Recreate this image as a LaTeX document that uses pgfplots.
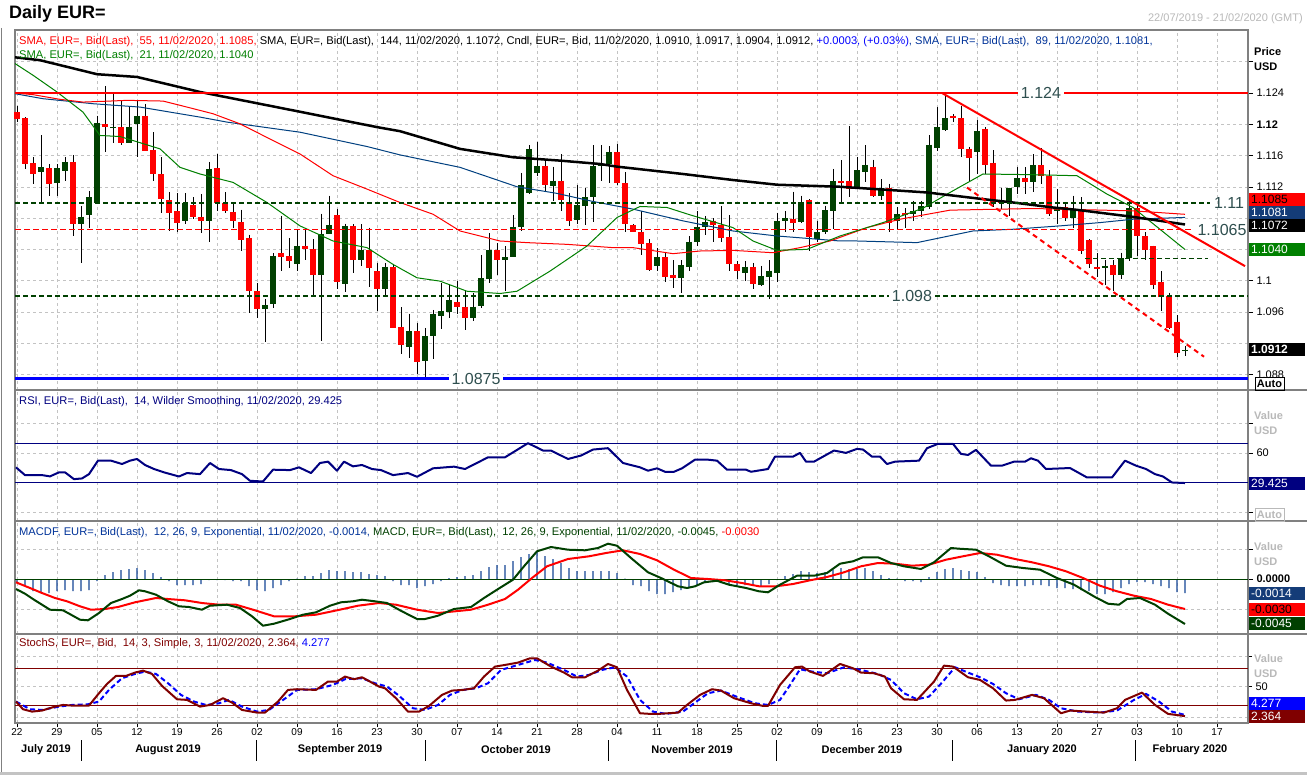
\documentclass[border=0pt]{standalone}
\usepackage{pgfplots}
\pgfplotsset{compat=1.18}
\usepackage{pgfplotstable}
\usepackage{fontspec}
\setmainfont{Liberation Sans}
\newcommand\sz[1]{\fontsize{#1}{#1}\selectfont}

\definecolor{cgreen}{RGB}{0,64,0}
\definecolor{smagreen}{RGB}{0,128,0}
\definecolor{smablue}{RGB}{0,64,128}
\definecolor{lvl}{RGB}{47,79,79}
\definecolor{navy}{RGB}{0,0,128}
\definecolor{maroon}{RGB}{128,0,0}
\definecolor{histblue}{RGB}{20,70,150}
\definecolor{gridgray}{RGB}{195,195,195}
\definecolor{framegray}{RGB}{128,128,128}
\definecolor{labgray}{RGB}{185,185,185}
\definecolor{boxblue}{RGB}{20,60,120}
\definecolor{txtblue}{RGB}{0,51,153}

% daily candles, i = trading day from 22/07/2019
\pgfplotstableread{
i O H L C
0 1.1216 1.1224 1.1203 1.1207
1 1.1208 1.1209 1.1143 1.1149
2 1.1150 1.1158 1.1124 1.1137
3 1.1139 1.1186 1.1100 1.1145
4 1.1144 1.1149 1.1109 1.1124
5 1.1125 1.1149 1.1109 1.1144
6 1.1140 1.1158 1.1128 1.1152
7 1.1152 1.1161 1.1057 1.1072
8 1.1072 1.1095 1.1023 1.1082
9 1.1084 1.1115 1.1068 1.1107
10 1.1099 1.1211 1.1099 1.1202
11 1.1200 1.1249 1.1164 1.1196
12 1.1195 1.1239 1.1176 1.1197
13 1.1196 1.1231 1.1174 1.1176
14 1.1176 1.1222 1.1176 1.1197
15 1.1200 1.1231 1.1158 1.1211
16 1.1211 1.1226 1.1166 1.1166
17 1.1167 1.1190 1.1127 1.1137
18 1.1136 1.1158 1.1087 1.1104
19 1.1103 1.1113 1.1064 1.1087
20 1.1089 1.1112 1.1062 1.1074
21 1.1076 1.1112 1.1072 1.1100
22 1.1097 1.1107 1.1079 1.1081
23 1.1082 1.1111 1.1061 1.1076
24 1.1076 1.1152 1.1049 1.1143
25 1.1144 1.1162 1.1089 1.1100
26 1.1099 1.1113 1.1087 1.1089
27 1.1088 1.1098 1.1068 1.1076
28 1.1075 1.1091 1.1038 1.1052
29 1.1055 1.1059 1.0959 1.0987
30 1.0987 1.0997 1.0953 1.0964
31 1.0964 1.0977 1.0922 1.0969
32 1.0971 1.1035 1.0965 1.1032
33 1.1035 1.1083 1.1012 1.1031
34 1.1032 1.1055 1.1017 1.1025
35 1.1021 1.1066 1.1012 1.1045
36 1.1045 1.1065 1.1027 1.1041
37 1.1041 1.1053 1.0980 1.1008
38 1.1008 1.1086 1.0923 1.1060
39 1.1060 1.1109 1.1060 1.1071
40 1.1084 1.1092 1.0989 1.0999
41 1.0996 1.1073 1.0986 1.1070
42 1.1070 1.1072 1.1010 1.1027
43 1.1026 1.1072 1.1019 1.1039
44 1.1039 1.1068 1.0992 1.1016
45 1.1012 1.1023 1.0961 1.0990
46 1.0990 1.1023 1.0979 1.1018
47 1.1018 1.1022 1.0940 1.0940
48 1.0941 1.0966 1.0906 1.0918
49 1.0916 1.0958 1.0902 1.0936
50 1.0936 1.0946 1.0881 1.0896
51 1.0898 1.0940 1.0876 1.0929
52 1.0929 1.0963 1.0900 1.0957
53 1.0955 1.0997 1.0938 1.0962
54 1.0960 1.0996 1.0953 1.0975
55 1.0973 1.1000 1.0957 1.0967
56 1.0967 1.0987 1.0937 1.0953
57 1.0953 1.0985 1.0949 1.0967
58 1.0968 1.1033 1.0965 1.1003
59 1.1002 1.1061 1.0997 1.1039
60 1.1040 1.1048 1.1008 1.1026
61 1.1026 1.1044 1.0987 1.1030
62 1.1030 1.1084 1.1030 1.1069
63 1.1069 1.1138 1.1064 1.1122
64 1.1112 1.1173 1.1111 1.1168
65 1.1138 1.1178 1.1134 1.1147
66 1.1147 1.1155 1.1115 1.1122
67 1.1121 1.1146 1.1102 1.1128
68 1.1128 1.1162 1.1089 1.1103
69 1.1101 1.1112 1.1070 1.1076
70 1.1078 1.1122 1.1072 1.1097
71 1.1096 1.1118 1.1071 1.1107
72 1.1107 1.1173 1.1075 1.1147
73 1.1147 1.1173 1.1128 1.1149
74 1.1149 1.1172 1.1125 1.1164
75 1.1164 1.1175 1.1122 1.1125
76 1.1125 1.1139 1.1062 1.1072
77 1.1071 1.1072 1.1062 1.1063
78 1.1063 1.1089 1.1033 1.1047
79 1.1048 1.1053 1.1012 1.1014
80 1.1019 1.1042 1.1012 1.1030
81 1.1030 1.1037 1.0999 1.1005
82 1.1008 1.1026 1.0991 1.1004
83 1.1003 1.1026 1.0985 1.1020
84 1.1018 1.1057 1.1012 1.1050
85 1.1049 1.1089 1.1045 1.1069
86 1.1069 1.1083 1.1059 1.1075
87 1.1077 1.1080 1.1049 1.1071
88 1.1071 1.1095 1.1049 1.1055
89 1.1056 1.1084 1.1012 1.1021
90 1.1021 1.1025 1.1002 1.1012
91 1.1010 1.1025 1.1000 1.1018
92 1.1018 1.1023 1.0989 1.0996
93 1.0995 1.1019 1.0994 1.1006
94 1.1005 1.1026 1.0977 1.1013
95 1.1010 1.1087 1.0999 1.1077
96 1.1076 1.1089 1.1062 1.1080
97 1.1079 1.1114 1.1062 1.1074
98 1.1075 1.1109 1.1074 1.1101
99 1.1103 1.1104 1.1038 1.1056
100 1.1053 1.1077 1.1049 1.1062
101 1.1062 1.1096 1.1060 1.1090
102 1.1089 1.1143 1.1066 1.1127
103 1.1127 1.1154 1.1100 1.1125
104 1.1127 1.1198 1.1107 1.1117
105 1.1119 1.1158 1.1117 1.1141
106 1.1139 1.1173 1.1126 1.1148
107 1.1146 1.1155 1.1107 1.1109
108 1.1109 1.1130 1.1103 1.1119
109 1.1119 1.1124 1.1062 1.1074
110 1.1077 1.1094 1.1066 1.1085
111 1.1087 1.1093 1.1068 1.1084
112 1.1085 1.1102 1.1077 1.1089
113 1.1089 1.1102 1.1081 1.1095
114 1.1094 1.1186 1.1092 1.1174
115 1.1170 1.1222 1.1166 1.1196
116 1.1193 1.1239 1.1192 1.1208
117 1.1211 1.1213 1.1203 1.1208
118 1.1208 1.1224 1.1158 1.1169
119 1.1169 1.1171 1.1126 1.1157
120 1.1165 1.1205 1.1137 1.1192
121 1.1194 1.1196 1.1137 1.1148
122 1.1151 1.1167 1.1094 1.1100
123 1.1102 1.1119 1.1092 1.1100
124 1.1102 1.1119 1.1083 1.1119
125 1.1120 1.1145 1.1111 1.1131
126 1.1132 1.1145 1.1111 1.1126
127 1.1126 1.1162 1.1114 1.1148
128 1.1148 1.1170 1.1124 1.1134
129 1.1134 1.1141 1.1083 1.1086
130 1.1089 1.1117 1.1073 1.1094
131 1.1094 1.1098 1.1077 1.1080
132 1.1080 1.1109 1.1068 1.1092
133 1.1092 1.1107 1.1034 1.1038
134 1.1052 1.1053 1.1017 1.1021
135 1.1018 1.1035 1.1005 1.1015
136 1.1017 1.1027 1.0995 1.1019
137 1.1020 1.1026 1.0987 1.1008
138 1.1007 1.1036 1.1002 1.1029
139 1.1029 1.1102 1.1025 1.1093
140 1.1093 1.1100 1.1032 1.1057
141 1.1057 1.1062 1.1027 1.1040
142 1.1044 1.1045 1.0989 1.0995
143 1.0999 1.1012 1.0961 1.0979
144 1.0980 1.0985 1.0938 1.0940
145 1.0948 1.0956 1.0903 1.0908
146 1.0910 1.0917 1.0904 1.0912
}\candles

% moving averages, x in pixels
\pgfplotstableread{
x y
15 1.12856
40 1.12819
97 1.12640
137 1.12605
200 1.12413
293 1.12178
377 1.11964
400 1.11912
460 1.11686
513 1.11579
560 1.11536
600 1.11493
617 1.11459
683 1.11365
733 1.11288
777 1.11228
840 1.11202
927 1.11129
983 1.11044
1013 1.11001
1053 1.10937
1077 1.10907
1133 1.10817
1185 1.1072
}\tSmaBlack

\pgfplotstableread{
x y
15 1.12391
43 1.12327
93 1.12263
140 1.12220
200 1.12092
227 1.12028
300 1.11899
367 1.11716
400 1.11609
460 1.11450
517 1.11202
557 1.11117
593 1.11014
633 1.10916
683 1.10766
733 1.10637
777 1.10573
840 1.10509
857 1.10509
917 1.10488
973 1.10637
1013 1.10659
1060 1.10702
1100 1.10744
1133 1.10787
1185 1.1081
}\tSmaBlue

\pgfplotstableread{
x y
15 1.12400
33 1.12379
60 1.12319
83 1.12284
110 1.12297
127 1.12306
163 1.12297
187 1.12220
213 1.12135
240 1.12006
273 1.11793
300 1.11621
333 1.11343
367 1.11172
400 1.11001
433 1.10851
460 1.10637
500 1.10509
527 1.10488
567 1.10466
613 1.10424
633 1.10424
673 1.10347
700 1.10381
733 1.10389
773 1.10359
800 1.10424
830 1.10509
867 1.10680
900 1.10787
950 1.10903
1033 1.10924
1133 1.10894
1185 1.1085
}\tSmaRed

\pgfplotstableread{
x y
15 1.12776
33 1.12627
57 1.12413
83 1.12156
100 1.11857
120 1.11844
160 1.11686
180 1.11450
200 1.11365
233 1.11258
267 1.11001
300 1.10702
333 1.10509
367 1.10424
393 1.10210
417 1.10039
440 1.09996
467 1.09867
500 1.09838
517 1.09867
550 1.10124
587 1.10445
617 1.10809
640 1.10950
667 1.10937
690 1.10843
733 1.10680
753 1.10509
777 1.10389
807 1.10402
840 1.10573
883 1.10744
923 1.10928
950 1.11129
983 1.11365
1033 1.11356
1077 1.11343
1107 1.11108
1133 1.10937
1185 1.1040
}\tSmaGreen

\pgfplotstableread{
x y
16 45.4
25 37.5
42 37.5
50 36.2
59 40.3
65 40.3
74 33.4
82 34.1
89 38.5
98 52.2
111 52.2
122 48.8
130 52.2
137 53.9
145 47.8
154 43.7
164 40.3
179 36.1
187 39.6
200 38.5
210 49.8
219 43.7
231 42.6
242 38.5
250 31.7
263 31.0
273 43.0
290 42.6
299 45.4
311 39.6
320 49.8
328 51.2
337 42.0
344 51.2
353 46.4
362 47.8
372 43.7
381 42.6
393 37.5
408 39.6
417 35.8
433 44.4
454 46.1
465 43.7
488 55.6
505 55.6
528 70.0
543 62.5
551 62.5
568 53.9
581 57.4
593 63.5
608 64.9
623 49.8
640 45.4
648 42.0
657 44.4
665 40.9
674 40.9
682 44.4
695 53.2
708 53.2
717 52.2
727 43.0
746 43.0
751 40.9
768 43.7
775 56.3
793 56.3
800 60.1
806 51.2
814 51.2
834 62.5
846 60.1
857 64.2
863 63.5
872 56.3
880 56.3
887 48.8
895 51.2
919 52.2
927 64.9
938 69.3
953 69.3
961 59.1
968 58.0
976 63.2
991 47.1
1002 47.1
1014 51.2
1025 51.2
1031 54.6
1038 52.2
1046 43.7
1070 44.7
1087 35.1
1112 35.1
1125 52.2
1136 47.1
1146 43.7
1155 38.5
1163 36.1
1172 30.0
1185 29.425
}\tRSI

\pgfplotstableread{
x y
16 -0.0010
25 -0.00147
34 -0.00207
42 -0.00257
50 -0.00307
63 -0.00313
71 -0.00357
80 -0.00407
88 -0.00413
99 -0.0034
111 -0.0024
122 -0.0020
130 -0.00167
139 -0.00113
145 -0.00123
156 -0.00157
168 -0.00223
179 -0.00273
189 -0.0028
202 -0.00307
210 -0.00267
227 -0.00257
240 -0.0029
252 -0.00373
263 -0.00467
274 -0.00447
290 -0.0040
303 -0.00357
316 -0.00333
330 -0.00267
341 -0.00233
353 -0.00223
362 -0.00207
375 -0.00223
387 -0.0024
400 -0.00313
417 -0.0040
425 -0.0040
438 -0.00367
454 -0.0030
471 -0.0028
484 -0.0019
497 -0.00107
513 -0.00007
524 0.00127
537 0.00277
551 0.0032
568 0.00293
585 0.00287
598 0.0031
608 0.00353
617 0.00333
631 0.0021
648 0.00067
661 0.0001
678 -0.00073
687 -0.0009
695 -0.00073
704 -0.00033
717 -0.00017
729 -0.00057
746 -0.0009
759 -0.00123
768 -0.00133
780 -0.00057
797 0.00033
814 0.00033
827 0.0006
840 0.00153
853 0.00177
863 0.00217
878 0.00217
891 0.0016
904 0.00127
921 0.0010
934 0.00167
951 0.0031
959 0.00303
976 0.00293
989 0.00227
1006 0.00133
1023 0.0011
1040 0.00093
1057 0.0001
1074 -0.00057
1095 -0.0018
1108 -0.00247
1119 -0.00257
1127 -0.0020
1140 -0.0019
1155 -0.00257
1168 -0.00347
1185 -0.0045
}\tMacd

\pgfplotstableread{
x y
16 -0.00033
30 -0.0009
42 -0.0014
55 -0.0019
67 -0.00223
80 -0.00273
91 -0.00307
105 -0.0030
118 -0.0028
135 -0.00233
156 -0.0019
168 -0.0020
185 -0.00213
202 -0.0024
219 -0.00257
236 -0.00257
253 -0.00307
274 -0.00373
295 -0.00373
316 -0.00357
337 -0.00313
358 -0.00267
379 -0.0024
396 -0.00257
417 -0.00307
438 -0.0034
455 -0.00323
471 -0.00307
488 -0.00257
505 -0.0020
518 -0.00107
532 0.0001
547 0.00127
568 0.0020
589 0.00227
606 0.0026
623 0.00287
640 0.0025
657 0.00187
674 0.00093
691 0.0001
708 0.0
725 -0.00013
742 -0.0004
759 -0.00073
776 -0.00073
793 -0.0005
810 -0.00013
827 0.0002
844 0.00067
861 0.00127
878 0.0016
895 0.00153
912 0.00133
929 0.00143
946 0.00193
963 0.00227
980 0.0026
997 0.00243
1015 0.0020
1032 0.00167
1049 0.00127
1066 0.00077
1083 0.0001
1100 -0.00067
1117 -0.00123
1134 -0.00167
1151 -0.0020
1168 -0.00257
1185 -0.0030
}\tSig

\pgfplotstableread{
i v
0 -0.0004
1 -0.0007
2 -0.0012
3 -0.0014
4 -0.0014
5 -0.0012
6 -0.0011
7 -0.0012
8 -0.0012
9 -0.0011
10 -0.0002
11 0.0004
12 0.0007
13 0.0009
14 0.0010
15 0.0011
16 0.0009
17 0.0006
18 0.0002
19 -0.0002
20 -0.0006
21 -0.0006
22 -0.0006
23 -0.0005
24 -0.0001
25 -0.0001
26 -0.0001
27 -0.0002
28 -0.0002
29 -0.0007
30 -0.0011
31 -0.0012
32 -0.0009
33 -0.0006
34 -0.0002
35 0.00005
36 0.0003
37 0.0003
38 0.0006
39 0.0009
40 0.0008
41 0.0008
42 0.0007
43 0.0007
44 0.0005
45 0.0004
46 0.0003
47 -0.0002
48 -0.0006
49 -0.0006
50 -0.0009
51 -0.0007
52 -0.0005
53 -0.0002
54 0.0001
55 0.0002
56 0.0003
57 0.0004
58 0.0008
59 0.0012
60 0.0014
61 0.0014
62 0.0018
63 0.0022
64 0.0025
65 0.0028
66 0.0023
67 0.0020
68 0.0016
69 0.0011
70 0.0008
71 0.0008
72 0.0008
73 0.0008
74 0.0008
75 0.0006
76 0.00005
77 -0.0006
78 -0.0007
79 -0.0012
80 -0.0015
81 -0.0015
82 -0.0013
83 -0.0011
84 -0.0009
85 -0.0006
86 -0.0004
87 -0.0003
88 -0.0004
89 -0.0005
90 -0.0006
91 -0.0006
92 -0.0006
93 -0.0007
94 -0.0005
95 -0.0001
96 0.0003
97 0.0005
98 0.0008
99 0.0007
100 0.0006
101 0.0007
102 0.0009
103 0.0011
104 0.0010
105 0.0010
106 0.0011
107 0.0008
108 0.0004
109 0.0001
110 0.00005
111 -0.0002
112 -0.0002
113 -0.0003
114 0.0002
115 0.0007
116 0.0010
117 0.0011
118 0.0009
119 0.0008
120 0.0007
121 0.0002
122 -0.0004
123 -0.0006
124 -0.0007
125 -0.0007
126 -0.0007
127 -0.0006
128 -0.0006
129 -0.0007
130 -0.0009
131 -0.0009
132 -0.0010
133 -0.0011
134 -0.0012
135 -0.0015
136 -0.0015
137 -0.0013
138 -0.0009
139 -0.0005
140 -0.0003
141 -0.0003
142 -0.0005
143 -0.0007
144 -0.0009
145 -0.0013
146 -0.0014
}\tHist

\pgfplotstableread{
x y
16 26
23 13.5
32 9.7
42 11.4
55 17.8
63 20.5
72 19.5
89 19.5
99 39.5
107 54.6
116 67.6
126 67.6
135 73
143 76.2
152 70.8
162 51.4
177 29.7
187 28.7
200 17.8
210 20.5
223 31.4
232 24.3
242 12.4
257 8.1
265 8.1
278 26
288 44.9
297 46
316 44.9
328 58.4
337 58.4
345 66.5
354 62.2
362 65.4
370 58.4
379 50.3
385 47.6
396 31.4
408 9.7
419 9.7
429 18.9
442 36.8
452 43.8
463 44.9
474 47.6
484 66.5
495 82.7
505 85.4
518 89.2
530 96.2
537 96.2
551 82.7
564 73
572 65.4
585 65.4
598 76.2
608 87
617 81.6
627 44.9
640 7
650 6
659 6
678 8.1
687 20.5
700 36.8
712 46
721 43.8
734 31.4
751 23.2
763 18.9
768 18.9
780 53
795 81.6
802 82.7
810 74.6
823 67.6
840 87
853 80
861 73
874 71.9
885 66.5
891 47.6
904 29.7
917 28.7
934 58.4
944 84.3
953 82.7
968 65.4
980 61.1
993 47.6
1006 27.6
1015 28.7
1032 36.8
1044 31.4
1061 7
1070 11.4
1087 9.7
1104 8.1
1117 15.1
1125 28.7
1142 40.5
1155 20.5
1168 6
1185 2.364
}\tK

\pgfplotstableread{
x y
16 26
30 13.5
42 12.4
59 17.8
72 20.5
88 21.6
99 26
109 44.9
122 63.8
135 70.8
145 74.6
156 70.8
168 55.7
181 36.8
194 26
206 20.5
219 23.2
229 28.7
242 17.8
257 9.7
269 12.4
284 29.7
297 44.9
316 46
333 53
345 62.2
362 63.8
375 55.7
387 50.3
398 36.8
413 15.1
425 12.4
438 20.5
450 36.8
463 44.9
476 47.6
488 55.7
501 77.3
518 85.4
535 93.5
547 89.2
564 77.3
577 66.5
589 69.2
602 77.3
615 81.6
627 66.5
640 28.7
653 9.7
666 6
683 9.7
695 24.3
708 39.5
721 43.8
738 33
755 23.2
768 20.5
780 28.7
789 50.3
800 78.4
812 74.6
827 71.9
844 81.6
861 77.3
878 70.8
891 61.1
904 39.5
917 29.7
929 34.1
942 56.8
955 81.6
968 73
980 65.4
993 54.6
1006 39.5
1019 29.7
1036 36.8
1049 28.7
1061 15.1
1078 9.7
1100 8.1
1117 11.4
1134 28.7
1146 38.4
1159 26
1172 9.7
1185 4.277
}\tD

\pgfplotsset{
  panel/.style={
    scale only axis, width=1233pt, xmin=15, xmax=1248,
    axis line style={draw=framegray, line width=1.2pt},
    xtick={17,57,...,1217}, xticklabels={}, xtick style={draw=none},
    xmajorgrids, ymajorgrids,
    major grid style={draw=gridgray, line width=0.8pt, dash pattern=on 3pt off 3pt},
    ytick pos=right, yticklabel pos=right, tick align=outside,
    major tick length=5pt,
    ytick style={draw=black, line width=0.8pt},
    yticklabel style={font=\sz{11}},
    scaled y ticks=false,
    clip=false,
  },
}
\tikzset{lvllab/.style={text=lvl, font=\sz{16}, fill=white, inner xsep=3pt, inner ysep=0pt}}

% right-hand value tag: fill, text colour, top, bottom, centre, label
\newcommand\tagbox[6]{%
  \fill[#1] (1249pt,-#3pt) rectangle (1305pt,-#4pt);
  \node[anchor=west, text=#2, font=\sz{12}, inner sep=0pt] at (1251pt,-#5pt) {#6};}

\begin{document}
\begin{tikzpicture}
\path[use as bounding box, fill=white] (0,0) rectangle (1307pt,-775pt);

% price panel
\begin{axis}[panel, at={(15pt,-30pt)}, anchor=north west, height=360pt,
  ymin=1.08605, ymax=1.13205,
  ytick={1.088,1.092,1.096,1.1,1.104,1.108,1.112,1.116,1.12,1.124,1.128},
  yticklabels={1.088,{},1.096,1.1,{},{},1.112,1.116,\textbf{1.12},1.124,{}}]
  \addplot[draw=none, mark=none, error bars/.cd, y dir=minus, y explicit,
    error mark=none, error bar style={draw=black, line width=1pt}]
    table[x expr=17+8*\thisrow{i}, y=H, y error minus expr=\thisrow{H}-\thisrow{L}] {\candles};
  \addplot[draw=none, mark=none, restrict expr to domain={\thisrow{C}-\thisrow{O}}{0:1},
    error bars/.cd, y dir=minus, y explicit,
    error mark=none, error bar style={draw=cgreen, line width=6pt}]
    table[x expr=17+8*\thisrow{i}, y=C, y error minus expr=\thisrow{C}-\thisrow{O}] {\candles};
  \addplot[draw=none, mark=none, restrict expr to domain={\thisrow{O}-\thisrow{C}}{0.00001:1},
    error bars/.cd, y dir=minus, y explicit,
    error mark=none, error bar style={draw=red, line width=6pt}]
    table[x expr=17+8*\thisrow{i}, y=O, y error minus expr=\thisrow{O}-\thisrow{C}] {\candles};

  \addplot[smablue, line width=1pt] table {\tSmaBlue};
  \addplot[red, line width=1pt] table {\tSmaRed};
  \addplot[smagreen, line width=1pt] table {\tSmaGreen};
  \addplot[black, line width=2.5pt] table {\tSmaBlack};

  \addplot[red, line width=2pt] coordinates {(15,1.124) (1248,1.124)};
  \addplot[cgreen, line width=2pt, dash pattern=on 5pt off 3pt] coordinates {(15,1.11) (1210,1.11)};
  \addplot[red, line width=1pt, dash pattern=on 6pt off 3pt] coordinates {(15,1.1065) (1193,1.1065)};
  \addplot[cgreen, line width=2pt, dash pattern=on 5pt off 3pt] coordinates {(15,1.098) (1248,1.098)};
  \addplot[cgreen, line width=1pt, dash pattern=on 5pt off 3pt] coordinates {(1085,1.1029) (1208,1.1029)};
  \addplot[blue, line width=2.5pt] coordinates {(15,1.0875) (1248,1.0875)};
  \addplot[red, line width=2pt] coordinates {(942,1.1240) (1245,1.10188)};
  \addplot[red, line width=2pt, dash pattern=on 5pt off 4pt] coordinates {(967,1.11192) (1204,1.0903)};

  \node[lvllab] at (axis cs:1041,1.124) {1.124};
  \node[lvllab, fill=none] at (axis cs:1229,1.11) {1.11};
  \node[lvllab, fill=none] at (axis cs:1222,1.1065) {1.1065};
  \node[lvllab] at (axis cs:912,1.098) {1.098};
  \node[lvllab] at (axis cs:476,1.0875) {1.0875};
\end{axis}

% RSI panel
\begin{axis}[panel, at={(15pt,-390pt)}, anchor=north west, height=131pt,
  ymin=-9.2, ymax=124.1, ytick={0,30,60,90}, yticklabels={{},{},60,{}}]
  \addplot[navy, line width=1pt] coordinates {(15,70) (1248,70)};
  \addplot[navy, line width=1pt] coordinates {(15,30) (1248,30)};
  \addplot[navy, line width=2pt, line join=round] table {\tRSI};
\end{axis}

% MACD panel
\begin{axis}[panel, at={(15pt,-521pt)}, anchor=north west, height=113pt,
  ymin=-0.0055, ymax=0.0058, ytick={-0.003,0,0.003},
  yticklabels={{},\textbf{0.0000},{}}]
  \addplot[ybar, bar width=1.3pt, fill=histblue, draw=none]
    table[x expr=17+8*\thisrow{i}, y=v] {\tHist};
  \addplot[cgreen, line width=1pt] coordinates {(15,0) (1248,0)};
  \addplot[red, line width=2pt, line join=round] table {\tSig};
  \addplot[cgreen, line width=2pt, line join=round] table {\tMacd};
\end{axis}

% Stochastics panel
\begin{axis}[panel, at={(15pt,-634pt)}, anchor=north west, height=89pt,
  ymin=-8.8, ymax=135.6, ytick={0,50,100}, yticklabels={{},50,{}},
  xtick pos=bottom, xtick style={draw=black, line width=0.8pt},
  major tick length=4pt,
  xticklabels={22,29,05,12,19,26,02,09,16,23,30,07,14,21,28,04,11,18,25,02,09,16,23,30,06,13,20,27,03,10,17},
  xticklabel style={font=\sz{10}, inner sep=1pt}]
  \addplot[maroon, line width=1pt] coordinates {(15,80) (1248,80)};
  \addplot[maroon, line width=1pt] coordinates {(15,20) (1248,20)};
  \addplot[blue, line width=2pt, dash pattern=on 5pt off 3pt] table {\tD};
  \addplot[maroon, line width=2pt, line join=round] table {\tK};
\end{axis}

% frames and separators
\draw[framegray, line width=1.5pt] (15pt,-390pt) -- (1307pt,-390pt);
\draw[framegray, line width=1.5pt] (15pt,-521pt) -- (1307pt,-521pt);
\draw[framegray, line width=1.5pt] (15pt,-634pt) -- (1307pt,-634pt);
\draw[framegray, line width=1pt] (1.5pt,-28pt) -- (1.5pt,-775pt);
\draw[gridgray, line width=3pt] (0pt,-773.5pt) -- (1307pt,-773.5pt);

% titles
\node[anchor=west, inner sep=0pt, font=\sz{18}\bfseries] at (9pt,-14pt) {Daily EUR=};
\node[anchor=east, inner sep=0pt, text=labgray, font=\sz{11}] at (1303pt,-19pt) {22/07/2019 - 21/02/2020 (GMT)};

\node[anchor=west, inner sep=0pt, font=\sz{11.15}] at (19pt,-42pt) {%
  {\color{red}SMA, EUR=, Bid(Last),\ \ 55, 11/02/2020, 1.1085, }%
  SMA, EUR=, Bid(Last),\ \ 144, 11/02/2020, 1.1072, Cndl, EUR=, Bid, 11/02/2020, 1.0910, 1.0917, 1.0904, 1.0912, %
  {\color{blue}+0.0003, (+0.03\%)}{\color{txtblue}, SMA, EUR=, Bid(Last),\ \ 89, 11/02/2020, 1.1081,}};
\node[anchor=west, inner sep=0pt, font=\sz{11.15}, text=smagreen] at (19pt,-56pt) {SMA, EUR=, Bid(Last),\ \ 21, 11/02/2020, 1.1040};
\node[anchor=west, inner sep=0pt, font=\sz{11.15}, text=navy] at (19pt,-402pt) {RSI, EUR=, Bid(Last),\ \ 14, Wilder Smoothing, 11/02/2020, 29.425};
\node[anchor=west, inner sep=0pt, font=\sz{11.15}] at (19pt,-533pt) {%
  {\color{txtblue}MACDF, EUR=, Bid(Last),\ \ 12, 26, 9, Exponential, 11/02/2020, -0.0014, }%
  {\color{cgreen}MACD, EUR=, Bid(Last),\ \ 12, 26, 9, Exponential, 11/02/2020, -0.0045, }{\color{red}-0.0030}};
\node[anchor=west, inner sep=0pt, font=\sz{11.15}] at (19pt,-644pt) {%
  {\color{maroon}StochS, EUR=, Bid,\ \ 14, 3, Simple, 3, 11/02/2020, 2.364, }{\color{blue}4.277}};

% right column
\node[anchor=west, inner sep=0pt, font=\sz{11}\bfseries] at (1254pt,-52pt) {Price};
\node[anchor=west, inner sep=0pt, font=\sz{11}\bfseries] at (1254pt,-67pt) {USD};
\draw[black, line width=0.8pt] (1255pt,-377pt) rectangle (1284pt,-390pt);
\node[inner sep=0pt, font=\sz{11}\bfseries] at (1269.5pt,-383.5pt) {Auto};
\foreach \y in {416,547,659} {
  \node[anchor=west, inner sep=0pt, font=\sz{11}\bfseries, text=labgray] at (1254pt,-\y pt) {Value};
}
\foreach \y in {431,562,674} {
  \node[anchor=west, inner sep=0pt, font=\sz{11}\bfseries, text=labgray] at (1254pt,-\y pt) {USD};
}
\draw[labgray, line width=0.8pt] (1255pt,-508pt) rectangle (1284pt,-521pt);
\node[inner sep=0pt, font=\sz{11}\bfseries, text=labgray] at (1269.5pt,-514.5pt) {Auto};

\tagbox{red}{black}{193}{206}{199.5}{1.1085}
\tagbox{boxblue}{white}{206}{219}{212.5}{1.1081}
\tagbox{black}{white}{219}{232}{225.5}{1.1072}
\tagbox{smagreen}{white}{243}{256}{249.5}{1.1040}
\tagbox{black}{white}{343}{356}{349.5}{\textbf{1.0912}}
\tagbox{navy}{white}{477}{490}{483.5}{29.425}
\tagbox{boxblue}{white}{587}{600}{593.5}{-0.0014}
\tagbox{red}{black}{603}{616}{609.5}{-0.0030}
\tagbox{cgreen}{white}{617}{630}{623.5}{-0.0045}
\tagbox{blue}{white}{697}{710}{703.5}{4.277}
\tagbox{maroon}{white}{710}{723}{716.5}{2.364}

% month labels
\foreach \x/\t in {46/July 2019,168/August 2019,340/September 2019,516/October 2019,692/November 2019,862/December 2019,1042/January 2020,1190/February 2020} {
  \node[inner sep=0pt, font=\sz{11}\bfseries] at (\x pt,-750pt) {\t};
}
\foreach \x in {81,256,425,608,776,952,1135} {
  \draw[black, line width=0.8pt] (\x pt,-740pt) -- (\x pt,-761pt);
}
\end{tikzpicture}
\end{document}
